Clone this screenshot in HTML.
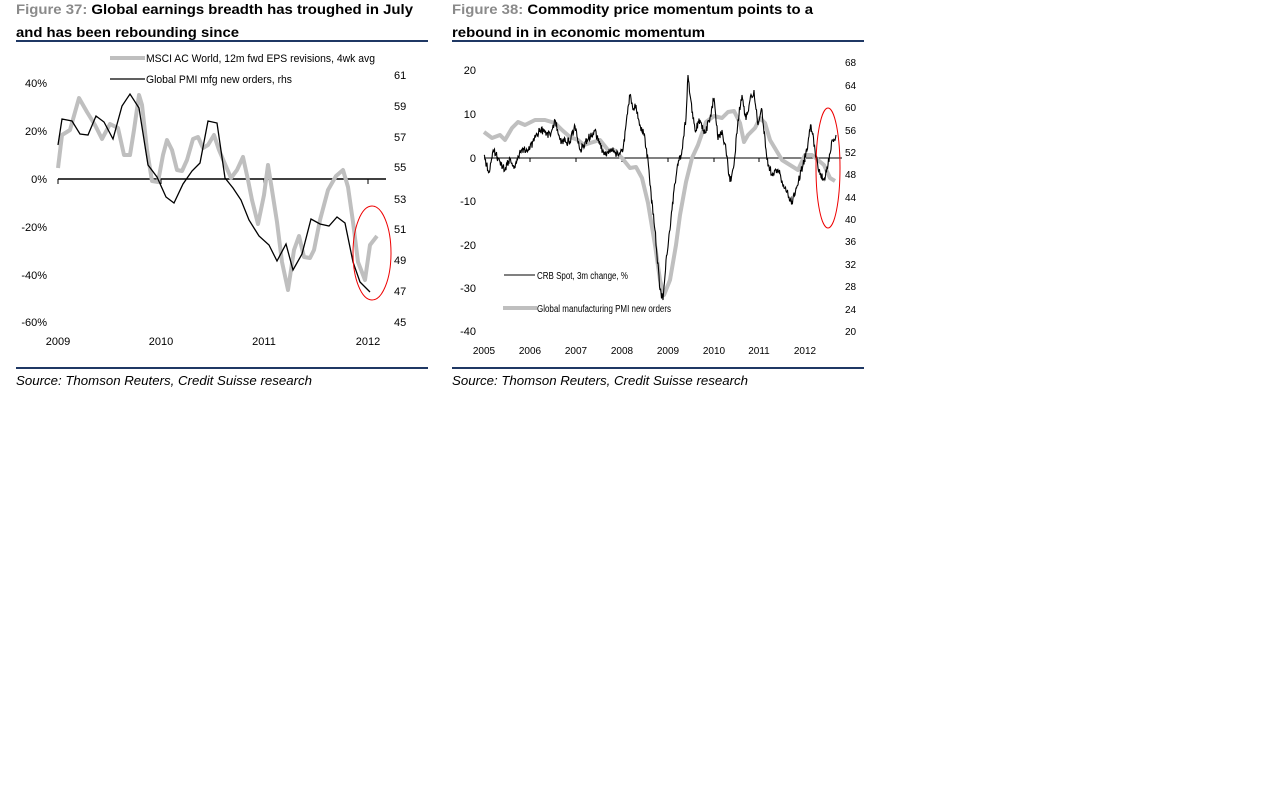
<!DOCTYPE html>
<html><head><meta charset="utf-8"><style>
html,body{margin:0;padding:0;background:#fff;width:1267px;height:798px;overflow:hidden}
svg{position:absolute;left:0;top:0}
text{font-family:"Liberation Sans",sans-serif}
</style></head><body>
<svg width="1267" height="798" viewBox="0 0 1267 798">
<!-- Titles -->
<text x="16" y="14" font-size="14" font-weight="bold" textLength="397" lengthAdjust="spacingAndGlyphs"><tspan fill="#8a8a8a">Figure 37: </tspan><tspan fill="#000">Global earnings breadth has troughed in July</tspan></text>
<text x="16" y="37" font-size="14" font-weight="bold" fill="#000" textLength="223" lengthAdjust="spacingAndGlyphs">and has been rebounding since</text>
<line x1="16" y1="41" x2="428" y2="41" stroke="#1f3864" stroke-width="2"/>
<line x1="16" y1="368" x2="428" y2="368" stroke="#1f3864" stroke-width="2"/>
<text x="16" y="385" font-size="13" font-style="italic" fill="#000" textLength="296" lengthAdjust="spacingAndGlyphs">Source: Thomson Reuters, Credit Suisse research</text>

<text x="452" y="14" font-size="14" font-weight="bold" textLength="361" lengthAdjust="spacingAndGlyphs"><tspan fill="#8a8a8a">Figure 38: </tspan><tspan fill="#000">Commodity price momentum points to a</tspan></text>
<text x="452" y="37" font-size="14" font-weight="bold" fill="#000" textLength="253" lengthAdjust="spacingAndGlyphs">rebound in in economic momentum</text>
<line x1="452" y1="41" x2="864" y2="41" stroke="#1f3864" stroke-width="2"/>
<line x1="452" y1="368" x2="864" y2="368" stroke="#1f3864" stroke-width="2"/>
<text x="452" y="385" font-size="13" font-style="italic" fill="#000" textLength="296" lengthAdjust="spacingAndGlyphs">Source: Thomson Reuters, Credit Suisse research</text>

<!-- Chart 1 -->
<g font-size="11" fill="#000">
<text x="47" y="87" text-anchor="end">40%</text>
<text x="47" y="135" text-anchor="end">20%</text>
<text x="47" y="183" text-anchor="end">0%</text>
<text x="47" y="231" text-anchor="end">-20%</text>
<text x="47" y="279" text-anchor="end">-40%</text>
<text x="47" y="326" text-anchor="end">-60%</text>
<text x="394" y="79">61</text><text x="394" y="110">59</text><text x="394" y="141">57</text>
<text x="394" y="171">55</text><text x="394" y="203">53</text><text x="394" y="233">51</text>
<text x="394" y="264">49</text><text x="394" y="295">47</text><text x="394" y="326">45</text>
<text x="58" y="345" text-anchor="middle">2009</text><text x="161" y="345" text-anchor="middle">2010</text>
<text x="264" y="345" text-anchor="middle">2011</text><text x="368" y="345" text-anchor="middle">2012</text>
</g>
<line x1="58" y1="179" x2="386" y2="179" stroke="#000" stroke-width="1.5"/>
<g stroke="#000" stroke-width="1"><line x1="58" y1="179" x2="58" y2="184"/><line x1="161" y1="179" x2="161" y2="184"/><line x1="264" y1="179" x2="264" y2="184"/><line x1="368" y1="179" x2="368" y2="184"/></g>
<polyline fill="none" stroke="#bfbfbf" stroke-width="4" stroke-linejoin="round" points="58,168 62,135 70,130 79,98 87,112 95,125 102,139 110,124 118,128 124,155 130,155 134,130 139,95 142,105 147,150 152,181 158,182 163,155 167,140 172,150 177,170 182,171 187,160 193,139 198,137 203,148 208,145 214,135 219,150 225,164 231,178 237,170 243,157 248,180 252,200 258,224 264,195 268,165 272,190 277,222 282,262 288,290 294,250 299,236 304,257 310,258 314,250 320,220 328,190 336,176 343,170 348,187 353,222 358,262 365,280 370,245 377,236"/>
<polyline fill="none" stroke="#000" stroke-width="1.3" points="58,145 62,119 72,121 80,134 88,135 96,116 104,122 113,139 122,106 130,94 139,108 148,165 157,177 166,197 174,203 183,184 192,171 200,163 208,121 217,123 225,178 233,188 241,200 249,220 259,236 269,245 277,261 286,244 293,270 302,254 311,219 320,224 329,226 337,217 345,223 353,262 360,282 370,292"/>
<ellipse cx="372" cy="253" rx="19" ry="47" fill="none" stroke="#e00" stroke-width="1"/>
<line x1="110" y1="58" x2="145" y2="58" stroke="#bfbfbf" stroke-width="4"/>
<text x="146" y="62" font-size="11" textLength="229" lengthAdjust="spacingAndGlyphs">MSCI AC World, 12m fwd EPS revisions, 4wk avg</text>
<line x1="110" y1="79" x2="145" y2="79" stroke="#000" stroke-width="1.3"/>
<text x="146" y="83" font-size="11" textLength="146" lengthAdjust="spacingAndGlyphs">Global PMI mfg new orders, rhs</text>

<!-- Chart 2 -->
<g font-size="11" fill="#000">
<text x="476" y="74" text-anchor="end">20</text>
<text x="476" y="118" text-anchor="end">10</text>
<text x="476" y="162" text-anchor="end">0</text>
<text x="476" y="205" text-anchor="end">-10</text>
<text x="476" y="249" text-anchor="end">-20</text>
<text x="476" y="292" text-anchor="end">-30</text>
<text x="476" y="335" text-anchor="end">-40</text>
<g font-size="10">
<text x="845" y="66">68</text><text x="845" y="89">64</text><text x="845" y="111">60</text>
<text x="845" y="134">56</text><text x="845" y="156">52</text><text x="845" y="178">48</text>
<text x="845" y="201">44</text><text x="845" y="223">40</text><text x="845" y="245">36</text>
<text x="845" y="268">32</text><text x="845" y="290">28</text><text x="845" y="313">24</text>
<text x="845" y="335">20</text>
<text x="484" y="354" text-anchor="middle">2005</text><text x="530" y="354" text-anchor="middle">2006</text>
<text x="576" y="354" text-anchor="middle">2007</text><text x="622" y="354" text-anchor="middle">2008</text>
<text x="668" y="354" text-anchor="middle">2009</text><text x="714" y="354" text-anchor="middle">2010</text>
<text x="759" y="354" text-anchor="middle">2011</text><text x="805" y="354" text-anchor="middle">2012</text>
</g>
</g>
<line x1="484" y1="158" x2="842" y2="158" stroke="#000" stroke-width="1"/>
<g stroke="#000" stroke-width="1"><line x1="530" y1="158" x2="530" y2="162"/><line x1="576" y1="158" x2="576" y2="162"/><line x1="622" y1="158" x2="622" y2="162"/><line x1="668" y1="158" x2="668" y2="162"/><line x1="714" y1="158" x2="714" y2="162"/><line x1="759" y1="158" x2="759" y2="162"/><line x1="805" y1="158" x2="805" y2="162"/></g>
<polyline fill="none" stroke="#bfbfbf" stroke-width="4" stroke-linejoin="round" points="484,132 492,138 500,135 505,140 512,128 518,122 525,125 535,120 545,120 555,123 562,130 570,137 578,140 584,145 590,143 600,140 608,150 614,150 622,158 630,168 636,167 642,178 648,203 655,245 660,280 664,295 670,280 676,245 680,215 686,182 692,158 698,145 706,122 714,116 722,118 728,112 734,111 740,123 744,142 748,135 755,128 760,118 765,123 770,140 776,150 782,160 790,165 798,170 805,155 812,155 818,160 824,165 830,178 835,181"/>
<path id="crb" fill="none" stroke="#000" stroke-width="1.1"/>
<ellipse cx="828" cy="168" rx="12" ry="60" fill="none" stroke="#e00" stroke-width="1"/>
<line x1="504" y1="275" x2="535" y2="275" stroke="#000" stroke-width="1"/>
<text x="537" y="279" font-size="10" textLength="91" lengthAdjust="spacingAndGlyphs">CRB Spot, 3m change, %</text>
<line x1="503" y1="308" x2="537" y2="308" stroke="#bfbfbf" stroke-width="4"/>
<text x="537" y="312" font-size="10" textLength="134" lengthAdjust="spacingAndGlyphs">Global manufacturing PMI new orders</text>
</svg>
<script>
var p=[[484,156],[489,172],[494,150],[500,162],[505,170],[510,158],[515,168],[520,150],[530,148],[540,130],[550,135],[555,120],[560,140],[570,142],[575,126],[580,150],[587,140],[595,130],[600,145],[605,154],[612,150],[618,155],[623,150],[627,115],[630,95],[633,110],[636,105],[640,125],[644,135],[648,160],[650,185],[655,230],[660,290],[663,300],[666,260],[670,230],[674,190],[678,165],[682,150],[686,118],[688,75],[690,95],[695,130],[700,120],[705,133],[710,118],[714,98],[718,140],[722,130],[726,150],[730,182],[734,165],[738,120],[742,95],[746,120],[750,100],[754,90],[758,125],[762,110],[767,160],[772,175],[778,170],[785,188],[792,202],[797,186],[803,165],[808,143],[811,125],[815,150],[820,175],[824,180],[828,165],[832,140],[836,135]];
var d="M"+p[0][0]+","+p[0][1],s=1;
for(var i=1;i<p.length;i++){var a=p[i-1],b=p[i],n=Math.max(1,Math.round((b[0]-a[0])*2));
for(var k=1;k<=n;k++){var t=k/n,x=a[0]+(b[0]-a[0])*t,y=a[1]+(b[1]-a[1])*t;s=(s*9301+49297)%233280;var j=(s/233280-0.5)*8;if(k==n)j=0;d+=" L"+x.toFixed(2)+","+(y+j).toFixed(1);}}
document.getElementById("crb").setAttribute("d",d);
</script>
</body></html>
